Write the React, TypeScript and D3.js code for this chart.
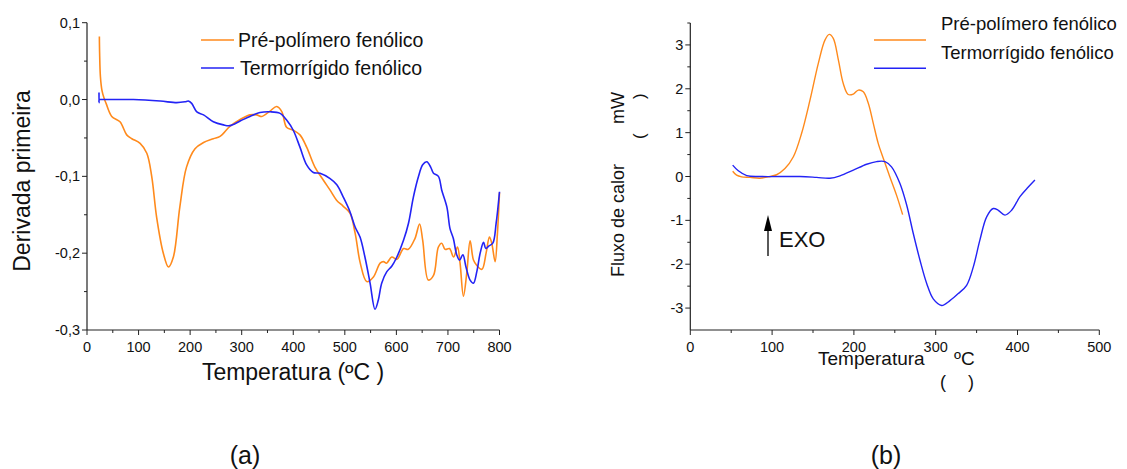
import * as d3 from 'd3'

// ---- (a) DTG data ----
const dtgPreT = [24, 24.5, 26, 29, 33, 37, 48, 64, 77, 87, 103, 116, 125.5, 135, 148, 158, 167.5, 180, 193, 209.5, 226, 245, 258, 277, 297, 316, 329, 339, 355, 368, 378, 387, 400, 413, 426, 442, 458.5, 471.5, 484, 497, 510, 520, 530, 542.5, 555.5, 568.5, 575, 581, 591, 601, 614, 623, 636, 645, 651, 662, 672, 681.5, 688, 694.5, 703, 711, 718.5, 723.5, 730, 736.5, 743, 749.5, 756, 766, 774, 780.5, 785, 791.5, 796, 800]
const dtgPreV = [0.082, 0.06, 0.03, 0.012, 0.002, -0.005, -0.022, -0.029, -0.046, -0.051, -0.057, -0.07, -0.1, -0.153, -0.2, -0.218, -0.205, -0.14, -0.088, -0.064, -0.056, -0.051, -0.048, -0.035, -0.026, -0.02, -0.02, -0.022, -0.015, -0.009, -0.016, -0.036, -0.04, -0.046, -0.062, -0.088, -0.105, -0.118, -0.131, -0.139, -0.148, -0.174, -0.213, -0.237, -0.231, -0.213, -0.211, -0.213, -0.205, -0.208, -0.194, -0.195, -0.181, -0.162, -0.183, -0.235, -0.229, -0.192, -0.187, -0.195, -0.194, -0.205, -0.192, -0.213, -0.256, -0.226, -0.184, -0.209, -0.216, -0.221, -0.2, -0.179, -0.187, -0.211, -0.174, -0.121]

const dtgTermoT = [23.3, 23.3, 23.6, 25, 60, 90, 142, 174, 190, 196.5, 203, 213, 226, 245, 264.5, 277, 297, 316, 335.5, 355, 374.5, 387.5, 400, 413, 426, 439, 452, 471.5, 484.5, 497, 510, 520, 529.5, 539, 549, 558.5, 565, 571.5, 581.5, 591, 601, 614, 623.5, 633, 643, 651, 659, 666.5, 672, 681.5, 688, 698, 704, 710.5, 717, 722.5, 729, 735, 743, 749.5, 756, 762.5, 769, 773.5, 778.5, 787, 793.5, 800]
const dtgTermoV = [0.009, -0.004, 0, 0, 0, 0, -0.002, -0.004, -0.003, -0.002, -0.005, -0.016, -0.02, -0.029, -0.033, -0.034, -0.028, -0.022, -0.017, -0.016, -0.018, -0.027, -0.04, -0.062, -0.085, -0.095, -0.096, -0.103, -0.111, -0.127, -0.146, -0.166, -0.179, -0.205, -0.239, -0.273, -0.261, -0.239, -0.224, -0.217, -0.205, -0.183, -0.161, -0.127, -0.1, -0.085, -0.081, -0.088, -0.096, -0.1, -0.118, -0.14, -0.168, -0.181, -0.202, -0.209, -0.202, -0.218, -0.235, -0.239, -0.224, -0.2, -0.186, -0.194, -0.191, -0.187, -0.161, -0.12]

const dtgYTicks = [0.1, 0, -0.1, -0.2, -0.3]
const dtgYLabels = ['0,1', '0,0', '-0,1', '-0,2', '-0,3']
const dtgXTicks = [0, 100, 200, 300, 400, 500, 600, 700, 800]

// ---- (b) DSC data ----
const dscPreT = [51.8, 56.6, 62.8, 73, 85, 95.4, 105.5, 115.7, 126, 136, 146.3, 156.5, 164.6, 169.9, 174.8, 181, 187, 193, 199.3, 205.4, 211.5, 217.6, 223.7, 229.8, 236, 244, 252.2, 259.6]
const dscPreV = [0.12, 0.03, -0.008, -0.02, -0.04, -0.008, 0.04, 0.18, 0.45, 0.98, 1.74, 2.58, 3.11, 3.24, 3.15, 2.66, 2.12, 1.87, 1.88, 1.97, 1.93, 1.67, 1.21, 0.75, 0.41, -0.01, -0.43, -0.87]

const dscTermoT = [51.8, 58.7, 69, 85, 134, 154.4, 170.7, 183, 199.3, 215.6, 227.8, 238, 246, 256.3, 264.5, 272.6, 280.8, 289, 297, 307.3, 317.4, 327.6, 337.8, 346, 354, 362.3, 370.4, 376.5, 384.7, 392.8, 403, 413.2, 421.3]
const dscTermoV = [0.26, 0.13, 0.02, 0, 0, -0.02, -0.04, 0.015, 0.145, 0.28, 0.34, 0.34, 0.22, -0.16, -0.65, -1.3, -1.91, -2.44, -2.79, -2.94, -2.83, -2.67, -2.48, -2.06, -1.45, -0.92, -0.73, -0.77, -0.88, -0.77, -0.46, -0.24, -0.08]

const dscYTicks = [3, 2, 1, 0, -1, -2, -3]
const dscXTicks = [0, 100, 200, 300, 400, 500]

const seriesNames = ['Pré-polímero fenólico', 'Termorrígido fenólico']
const colors = ['#ff8a1c', '#2323f5']

const FONT = "Arial, 'Liberation Sans', sans-serif"
const AXIS = '#222'

type Scale = d3.ScaleLinear<number, number>

function zip(t: number[], v: number[]) {
  return t.map((x, i) => [x, v[i]] as [number, number])
}

function Axes({ x, y, xTicks, xMinor, yTicks, yLabels, yMinor }: {
  x: Scale; y: Scale; xTicks: number[]; xMinor: number[]; yTicks: number[]; yLabels: string[]; yMinor: number[]
}) {
  const [x0, x1] = x.range()
  const [y0, y1] = y.range()
  return (
    <g fontFamily={FONT} fontSize={14.5} fill="#111">
      <line x1={x0} x2={x0} y1={y0} y2={y1} stroke={AXIS} strokeWidth={1.2} />
      <line x1={x0} x2={x1} y1={y0} y2={y0} stroke={AXIS} strokeWidth={1.2} />
      {yMinor.map((v) => (
        <line key={'ym' + v} x1={x0 - 3} x2={x0} y1={y(v)} y2={y(v)} stroke={AXIS} />
      ))}
      {yTicks.map((v, i) => (
        <g key={'y' + v}>
          <line x1={x0 - 5} x2={x0} y1={y(v)} y2={y(v)} stroke={AXIS} />
          <text x={x0 - 7} y={y(v)} dy="0.35em" textAnchor="end">{yLabels[i]}</text>
        </g>
      ))}
      {xMinor.map((v) => (
        <line key={'xm' + v} x1={x(v)} x2={x(v)} y1={y0} y2={y0 + 3} stroke={AXIS} />
      ))}
      {xTicks.map((v) => (
        <g key={'x' + v}>
          <line x1={x(v)} x2={x(v)} y1={y0} y2={y0 + 5} stroke={AXIS} />
          <text x={x(v)} y={y0 + 17} dy="0.35em" textAnchor="middle">{v}</text>
        </g>
      ))}
    </g>
  )
}

export default function App() {
  // (a)
  const xa = d3.scaleLinear().domain([0, 800]).range([87, 499.5])
  const ya = d3.scaleLinear().domain([-0.3, 0.1]).range([330, 22.7])
  const lineA = d3.line<[number, number]>().x((d) => xa(d[0])).y((d) => ya(d[1])).curve(d3.curveCatmullRom.alpha(0.5))

  // (b)
  const xb = d3.scaleLinear().domain([0, 500]).range([690.3, 1099.3])
  const yb = d3.scaleLinear().domain([-3.5, 3.5]).range([330, 23])
  const lineB = d3.line<[number, number]>().x((d) => xb(d[0])).y((d) => yb(d[1])).curve(d3.curveCatmullRom.alpha(0.5))

  return (
    <svg width={1127} height={469} style={{ position: 'absolute', left: 0, top: 0, background: '#fff' }}>
      {/* ---------- chart (a) ---------- */}
      <Axes
        x={xa}
        y={ya}
        xTicks={dtgXTicks}
        xMinor={d3.range(50, 800, 100)}
        yTicks={dtgYTicks}
        yLabels={dtgYLabels}
        yMinor={[0.05, -0.05, -0.15, -0.25]}
      />
      <path d={lineA(zip(dtgPreT, dtgPreV)) ?? ''} fill="none" stroke={colors[0]} strokeWidth={1.6} />
      <path d={lineA(zip(dtgTermoT, dtgTermoV)) ?? ''} fill="none" stroke={colors[1]} strokeWidth={1.6} />
      <g fontFamily={FONT} fontSize={19.5} fill="#111">
        <line x1={201} x2={234} y1={40} y2={40} stroke={colors[0]} strokeWidth={1.6} />
        <text x={238} y={47}>{seriesNames[0]}</text>
        <line x1={201} x2={234} y1={68} y2={68} stroke={colors[1]} strokeWidth={1.6} />
        <text x={240} y={75}>{seriesNames[1]}</text>
      </g>
      <text transform="translate(30,181) rotate(-90)" textAnchor="middle" fontFamily={FONT} fontSize={23} fill="#111">
        Derivada primeira
      </text>
      <text x={293} y={380} textAnchor="middle" fontFamily={FONT} fontSize={23} fill="#111">
        Temperatura (ºC )
      </text>

      {/* ---------- chart (b) ---------- */}
      <Axes
        x={xb}
        y={yb}
        xTicks={dscXTicks}
        xMinor={d3.range(50, 500, 100)}
        yTicks={dscYTicks}
        yLabels={dscYTicks.map(String)}
        yMinor={[3.5, 2.5, 1.5, 0.5, -0.5, -1.5, -2.5]}
      />
      <path d={lineB(zip(dscPreT, dscPreV)) ?? ''} fill="none" stroke={colors[0]} strokeWidth={1.4} />
      <path d={lineB(zip(dscTermoT, dscTermoV)) ?? ''} fill="none" stroke={colors[1]} strokeWidth={1.4} />
      <g fontFamily={FONT} fontSize={18.5} fill="#111">
        <text x={941} y={30}>{seriesNames[0]}</text>
        <line x1={874} x2={926} y1={40} y2={40} stroke={colors[0]} strokeWidth={1.4} />
        <text x={941} y={59}>{seriesNames[1]}</text>
        <line x1={874} x2={926} y1={68.3} y2={68.3} stroke={colors[1]} strokeWidth={1.4} />
      </g>
      <g fontFamily={FONT} fill="#111">
        <text transform="translate(624,277) rotate(-90)" fontSize={18}>Fluxo de calor</text>
        <text transform="translate(624,124) rotate(-90)" fontSize={18}>mW</text>
        <text transform="translate(645,139) rotate(-90)" fontSize={17}>(</text>
        <text transform="translate(645,99) rotate(-90)" fontSize={17}>)</text>
        <text x={818} y={365} fontSize={19}>Temperatura</text>
        <text x={954} y={365} fontSize={19}>ºC</text>
        <text x={940} y={388} fontSize={18}>(</text>
        <text x={968} y={388} fontSize={18}>)</text>
        <line x1={768} x2={768} y1={256} y2={226} stroke="#000" strokeWidth={1.3} />
        <path d="M764,231 L768,215 L772,231 Z" fill="#000" />
        <text x={779} y={247} fontSize={22}>EXO</text>
      </g>

      {/* captions */}
      <g fontFamily={FONT} fontSize={25} fill="#111" textAnchor="middle">
        <text x={245} y={464}>(a)</text>
        <text x={886} y={464}>(b)</text>
      </g>
    </svg>
  )
}
